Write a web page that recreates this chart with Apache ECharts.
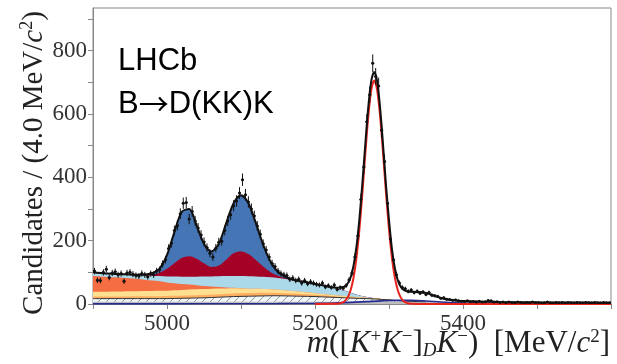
<!DOCTYPE html>
<html><head><meta charset="utf-8">
<script src="https://cdn.jsdelivr.net/npm/echarts@6/dist/echarts.min.js"></script>
<style>html,body{margin:0;padding:0;background:#fff}#c{width:617px;height:364px}</style>
</head><body><div id="c"></div>
<script>
// ---------------- data ----------------
// data histogram: 4 MeV bins from 4900 to 5600
const binStart = 4900, binWidth = 4;
const counts = [104,75,74,100,110,84,98,102,92,96,72,98,100,94,90,88,96,92,86,96,92,104,108,126,140,
175,192,232,248,285,318,320,268,292,262,240,218,196,178,160,148,176,195,198,232,262,282,310,325,350,
392,345,322,300,278,246,220,190,170,148,128,118,104,96,92,90,78,82,74,78,66,74,64,70,66,
62,60,66,54,58,52,60,46,52,50,58,76,98,148,215,330,432,575,660,760,718,688,548,450,318,
205,140,92,66,52,48,40,44,36,40,34,38,30,36,28,26,24,18,20,15,14,12,13,10,9,
8,10,7,8,6,9,6,7,11,10,6,7,5,6,4,6,5,4,6,5,3,5,4,6,4,
5,3,4,6,4,3,5,4,5,3,5,4,3,5,4,3,5,4,3,5,4,3,5,4,4];

// stacked background components, thickness on a 10 MeV grid 4900..5350
const compStart = 4900, compStep = 10;
const grayW    = [7,7,7,7,7,7,7,7,7,7,7,7,7,7,7,7,7,7,7,7,7,7,7,7,7,7,7,7,7,7,7,7,7,7,7,7,7,7,7,7,7,7,7,7,7,7];
const hatchW   = [10,10,10,10,10,10,10,10,10,10,10,10.5,11,11.5,12,12.5,13.5,14.5,15.5,16.5,17,17.5,18,18.5,19,19,18.5,18,17.5,17,16.5,15.5,14.5,13.5,12.5,11.5,10.5,10,9,7.5,6,4,2.5,1.5,0.5,0];
const orangeW  = [7,7,7,7,7,7,7.2,7.4,7.6,7.8,8,8.2,8.4,8.6,8.8,9,9.3,9.6,9.8,10,10,10,10,10,9.6,9,8.4,7.8,7.2,6.6,5.8,5,4.2,3.5,3,2.6,2.2,1.8,1.4,1,0.6,0.3,0,0,0,0];
const yellowW  = [15,15,15,15.5,15.5,16,16,16.5,16.5,17,17,17.5,18,18.5,18.5,18.5,18,17.5,17,16,15,14,13,12,11,10,9,8,7,6,5,4,3.5,3,2.5,2,1.5,1,0.6,0.3,0,0,0,0,0,0];
const coralW   = [49,48,46.5,45,43.5,41.5,39,36,33,30,26,22.5,19,16,13,10,7.5,5,3,1.5,0.5,0,0,0,0,0,0,0,0,0,0,0,0,0,0,0,0,0,0,0,0,0,0,0,0,0];
const lblueW   = [10,9.5,9,9,9.5,10,11.3,13.1,14.9,16.2,19,20.8,22.6,24.4,26.7,29.5,31.7,33.9,35.7,37,38.5,39,39,38.5,37.9,37,35.6,33.7,31.3,29.4,27.2,25.5,23.3,20.5,16.5,10.9,5.8,2.2,0.5,0,0,0,0,0,0,0];
const crimsonW = [0,0,0,0,0,0,0,1,4,11,24,42,59,65,57,42,30,34,52,72,78,70,52,32,16,7,2.5,1,0,0,0,0,0,0,0,0,0,0,0,0,0,0,0,0,0,0];
const blueW    = [2,1.5,1.5,1.5,1.5,1.5,1.5,2,4,13,44,98.5,146,149,105,61.5,49,68.5,115,158,177,160.5,117,69,32.5,12,5,2.5,2,2,1.5,2,1.5,1.5,1,0.5,0,0,0,0,0,0,0,0,0,0];
const grayTailM = [5350,5400,5450,5500,5550,5600];
const grayTailV = [7,6,5.3,4.8,4.3,3.8];

// total fit (black line)
const totalM = [4900,4910,4920,4930,4940,4950,4960,4970,4980,4990,5000,5010,5020,5030,5040,5050,5060,5070,5080,5090,5100,5110,5120,5130,5140,5150,5160,5170,5180,5190,5200,5210,5220,5230,
5236,5240,5244,5248,5252,5256,5260,5264,5268,5272,5276,5280,5284,5288,5292,5296,5300,5304,5308,5312,5316,5320,5324,5328,5332,5336,5340,
5350,5360,5370,5380,5390,5400,5420,5450,5500,5550,5600];
const totalV = [100,98,96,95,94,93,92,93,97,112,155,227,291,300,248,190,166,190,255,318,343,318,256,187,133,101,86,77,72,68,63,59,54,51,
53,55,64,83,120,180,268,381,505,621,703,732,702,618,501,374,265,173,112,74,54,44,40,38.5,38.5,38,38,
34.5,27,19,14.4,11.2,9.2,7.7,6.5,5.4,4.7,4.1];

// signal (red line)
const sigM = [5200,5228,5232,5236,5240,5244,5248,5252,5256,5260,5264,5268,5272,5276,5280,5284,5288,5292,5296,5300,5304,5308,5312,5316,5320,5324,5328,5332,5340,5600];
const sigV = [0,0.4,1.3,3.5,8.7,20.1,42.5,82,145,235,349,475,592,675,705,675,592,475,349,235,145,82,42.5,20.1,8.7,3.5,1.3,0.4,0,0];

// misidentified component (dark blue line)
const misM = [4900,5000,5100,5150,5200,5230,5250,5270,5290,5310,5330,5350,5370,5390,5410,5430,5460,5500,5550,5600];
const misV = [0.3,0.5,0.8,1.2,2,3.5,5,7.5,10,11.5,11.5,9.5,6.5,4,2.5,1.5,1,0.6,0.4,0.3];

// ---------------- chart ----------------
const compM = grayW.map((_, i) => compStart + compStep * i);
function hatchPattern() {
  const s = 8;
  const c = document.createElement('canvas'); c.width = s; c.height = s;
  const g = c.getContext('2d');
  g.fillStyle = '#f1f6f8'; g.fillRect(0, 0, s, s);
  g.strokeStyle = '#999999'; g.lineWidth = 1;
  g.beginPath(); g.moveTo(0, s); g.lineTo(s, 0); g.stroke();
  g.beginPath(); g.moveTo(-1, 1); g.lineTo(1, -1); g.stroke();
  g.beginPath(); g.moveTo(s - 1, s + 1); g.lineTo(s + 1, s - 1); g.stroke();
  return c;
}
const layers = [
  { w: grayW, color: '#bdbdbd' },
  { w: hatchW, pattern: true },
  { w: orangeW, color: '#fdae61' },
  { w: yellowW, color: '#fee090' },
  { w: coralW, color: '#f46d43' },
  { w: lblueW, color: '#abd9e9' },
  { w: crimsonW, color: '#a50026' },
  { w: blueW, color: '#4575b4' }
];
let cum = compM.map(() => 0);
layers.forEach(L => { cum = cum.map((c, i) => c + L.w[i]); L.top = cum.slice(); });

const series = [];
layers.slice().reverse().forEach(L => {
  series.push({
    type: 'line', silent: true, symbol: 'none', smooth: 0.35,
    data: compM.map((m, i) => [m, L.top[i]]),
    lineStyle: L.pattern ? { color: '#333', width: 1 } : { width: 0 },
    areaStyle: { color: L.pattern ? { image: hatchPattern(), repeat: 'repeat' } : L.color, opacity: 1 }
  });
});
series.push({
  type: 'line', silent: true, symbol: 'none', smooth: 0.35,
  data: grayTailM.map((m, i) => [m, grayTailV[i]]),
  lineStyle: { width: 0 }, areaStyle: { color: '#bdbdbd', opacity: 1 }
});
series.push({
  type: 'line', silent: true, symbol: 'none', smooth: 0.35,
  data: misM.map((m, i) => [m, misV[i]]),
  lineStyle: { color: '#262b8f', width: 1.6 }
});
series.push({
  type: 'line', silent: true, symbol: 'none', smooth: 0.3,
  data: sigM.map((m, i) => [m, sigV[i]]),
  lineStyle: { color: '#e8231d', width: 2 }
});
series.push({
  type: 'line', silent: true, symbol: 'none', smooth: 0.3,
  data: totalM.map((m, i) => [m, totalV[i]]),
  lineStyle: { color: '#111', width: 2 }
});
series.push({
  type: 'custom', silent: true, clip: true, z: 10,
  data: counts.map((v, i) => [binStart + binWidth * (i + 0.5), v, Math.sqrt(v)]),
  renderItem(params, api) {
    const x = api.value(0), y = api.value(1), e = api.value(2);
    const p = api.coord([x, y]);
    const hi = api.coord([x, y + e]), lo = api.coord([x, y - e]);
    const l = api.coord([x - binWidth / 2, y]), r = api.coord([x + binWidth / 2, y]);
    return { type: 'group', children: [
      { type: 'line', shape: { x1: p[0], y1: hi[1], x2: p[0], y2: lo[1] }, style: { stroke: '#111', lineWidth: 1 } },
      { type: 'line', shape: { x1: l[0], y1: p[1], x2: r[0], y2: p[1] }, style: { stroke: '#111', lineWidth: 1 } },
      { type: 'circle', shape: { cx: p[0], cy: p[1], r: 1.5 }, style: { fill: '#111' } }
    ]};
  }
});

const serif = '"Liberation Serif", "DejaVu Serif", serif';
const sans = '"Liberation Sans", Arial, sans-serif';
const chart = echarts.init(document.getElementById('c'), null, { renderer: 'canvas' });
chart.setOption({
  animation: false,
  backgroundColor: '#fff',
  grid: { left: 93, right: 6, top: 8, bottom: 60, show: true, borderColor: '#888', borderWidth: 1, containLabel: false, outerBoundsMode: 'none' },
  xAxis: {
    type: 'value', min: 4900, max: 5600, interval: 100,
    axisLine: { show: true, lineStyle: { color: '#888', width: 1 } },
    axisTick: { show: true, length: 5, lineStyle: { color: '#888' } },
    axisLabel: { formatter: v => (v % 200 === 0 && v > 4900 && v < 5600) ? String(v) : '', fontFamily: serif, fontSize: 23, color: '#333', margin: 8 },
    splitLine: { show: false }
  },
  yAxis: {
    type: 'value', min: 0, max: 934, interval: 100,
    axisLine: { show: true, lineStyle: { color: '#888', width: 1 } },
    axisTick: { show: true, length: 5, lineStyle: { color: '#888' } },
    axisLabel: { formatter: v => (v % 200 === 0 && v <= 800) ? String(v) : '', fontFamily: serif, fontSize: 23, color: '#333', margin: 6, showMaxLabel: false },
    splitLine: { show: false }
  },
  graphic: [
    { type: 'text', x: 34, y: 163, rotation: Math.PI / 2, silent: true,
      style: { text: '{n|Candidates / (4.0 MeV/}{i|c}{s|2}{n|)}', align: 'center', verticalAlign: 'middle', fill: '#222',
        rich: { n: { fontFamily: serif, fontSize: 29, lineHeight: 31, fill: '#222' },
                i: { fontFamily: serif, fontStyle: 'italic', fontSize: 29, lineHeight: 31, fill: '#222' },
                s: { fontFamily: serif, fontSize: 18, lineHeight: 18, verticalAlign: 'top', fill: '#222' } } } },
    { type: 'text', x: 610, y: 344, silent: true,
      style: { text: '{i|m}{n|([}{i|K}{s|+}{i|K}{s|−}{n|]}{b|D}{i|K}{s|−}{n|)  [MeV/}{i|c}{s|2}{n|]}', align: 'right', verticalAlign: 'middle', fill: '#222',
        rich: { n: { fontFamily: serif, fontSize: 31, lineHeight: 32, fill: '#222' },
                i: { fontFamily: serif, fontStyle: 'italic', fontSize: 31, lineHeight: 32, fill: '#222' },
                s: { fontFamily: serif, fontSize: 19, lineHeight: 19, verticalAlign: 'top', fill: '#222' },
                b: { fontFamily: serif, fontStyle: 'italic', fontSize: 19, lineHeight: 19, verticalAlign: 'bottom', fill: '#222' } } } },
    { type: 'text', x: 118, y: 61, silent: true,
      style: { text: 'LHCb', font: '31px ' + sans, fill: '#000', align: 'left', verticalAlign: 'middle' } },
    { type: 'text', x: 118, y: 104, silent: true,
      style: { text: '{t|B}{a|→}{t|D(KK)K}', align: 'left', verticalAlign: 'middle', fill: '#000',
        rich: { t: { fontFamily: sans, fontSize: 31, lineHeight: 34, fill: '#000' },
                a: { fontFamily: '"Noto Sans CJK SC", "DejaVu Sans", sans-serif', fontSize: 30, lineHeight: 34, fill: '#000' } } } }
  ],
  series: series
});
</script>
</body></html>
